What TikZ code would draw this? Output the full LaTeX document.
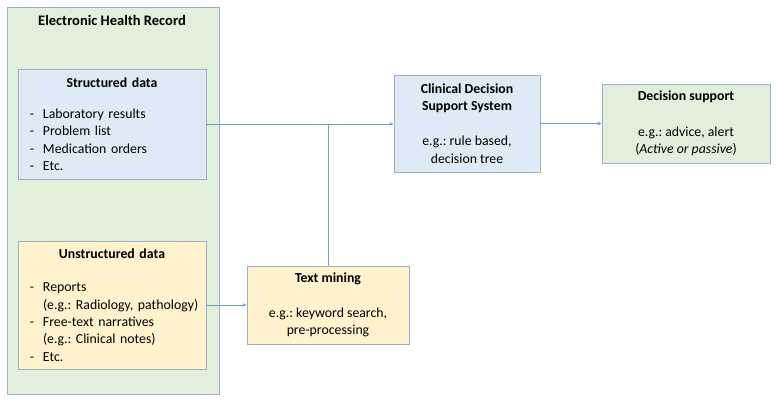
\documentclass[tikz,border=0pt]{standalone}
\usepackage{fontspec}
\setmainfont{Carlito}
\frenchspacing
\usetikzlibrary{arrows.meta}
\definecolor{greenfill}{HTML}{E2EFDA}
\definecolor{bluefill}{HTML}{DEEBF7}
\definecolor{yellowfill}{HTML}{FFF2CC}
\definecolor{boxline}{HTML}{9BB0C8}
\definecolor{linkline}{HTML}{6F9BD0}
\newcommand{\dashitem}{\hspace*{12pt}\makebox[13pt][l]{-}}
\newcommand{\moreitem}{\hspace*{25pt}}

\begin{document}
\begin{tikzpicture}[x=1pt, y=-1pt,
  box/.style = {draw=boxline, line width=0.9pt, inner ysep=0pt, font=\fontsize{13.8}{17.3}\selectfont},
  listbox/.style = {box, inner xsep=0pt, text width=188pt, minimum width=188pt, align=left},
  textbox/.style = {box, align=center},
  link/.style = {draw=linkline, line width=0.9pt},
  linkarrow/.style = {link, -{Stealth[length=4pt, width=3.5pt]}}]
\useasboundingbox (0,0) rectangle (780,408);

% electronic health record
\node[box, fill=greenfill, minimum width=212pt, minimum height=387pt] (ehr) at (113,200.5) {};
\node[font=\fontsize{14.5}{17}\selectfont\bfseries] (ehrtitle) at (112,20) {Electronic Health Record};

\node[listbox, fill=bluefill, minimum height=110pt] (struct) at (112,124) {%
\makebox[\linewidth]{\textbf{Structured data}}\\[14pt]
\dashitem Laboratory results\\
\dashitem Problem list\\
\dashitem Medication orders\\
\dashitem Etc.};

\node[listbox, fill=yellowfill, minimum height=128pt] (unstruct) at (112,305) {%
\makebox[\linewidth]{\textbf{Unstructured data}}\\[16pt]
\dashitem Reports\\
\moreitem (e.g.: Radiology, pathology)\\
\dashitem Free-text narratives\\
\moreitem (e.g.: Clinical notes)\\
\dashitem Etc.};

% processing and output
\node[textbox, fill=yellowfill, minimum width=162pt, minimum height=78pt] (textmine) at (328,305) {%
\textbf{Text mining}\\[18pt]
e.g.: keyword search,\\ pre-processing};

\node[textbox, fill=bluefill, minimum width=146pt, minimum height=97pt] (cdss) at (467,123.5) {%
\textbf{Clinical Decision}\\ \textbf{Support System}\\[18pt]
e.g.: rule based,\\ decision tree};

\node[textbox, fill=greenfill, minimum width=168pt, minimum height=79pt] (decision) at (686,123.5) {%
\textbf{Decision support}\\[18pt]
e.g.: advice, alert\\ (\textit{Active or passive})};

\draw[linkarrow] (struct.east) -- (struct.east -| cdss.west);
\draw[link] (textmine.north) -- (textmine.north |- struct.east);
\draw[linkarrow] (unstruct.east) -- (textmine.west);
\draw[linkarrow] (cdss.east) -- (cdss.east -| decision.west);
\end{tikzpicture}
\end{document}
